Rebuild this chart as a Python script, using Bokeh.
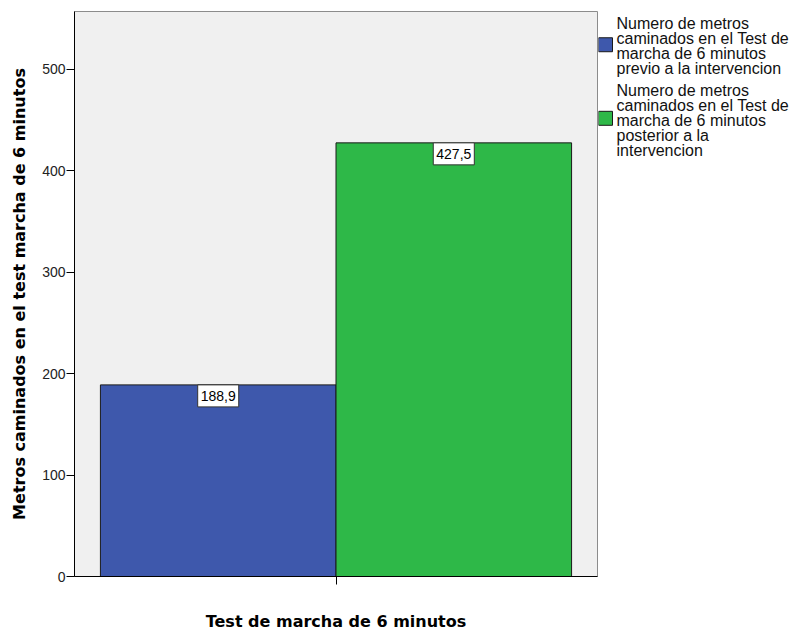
from bokeh.plotting import figure
from bokeh.layouts import row
from bokeh.models import ColumnDataSource, Range1d, FixedTicker
from bokeh.core.properties import value
from bokeh.embed import file_html
from bokeh.resources import INLINE

# Data
series_lines = [
    ["Numero de metros", "caminados en el Test de", "marcha de 6 minutos",
     "previo a la intervencion"],
    ["Numero de metros", "caminados en el Test de", "marcha de 6 minutos",
     "posterior a la", "intervencion"],
]
metros = [188.9, 427.5]
bar_colors = ["#3E58AC", "#2EB848"]
bar_pos = [-0.5, 0.5]
y_ticks = [0, 100, 200, 300, 400, 500]
x_title = "Test de marcha de 6 minutos"
y_title = "Metros caminados en el test marcha de 6 minutos"

value_labels = [f"{v:.1f}".replace(".", ",") for v in metros]

H = 633
MAIN_W = 598
LEG_W = 794 - MAIN_W
TOP, BOTTOM = 11, 56          # borders above and below the plot frame

src = ColumnDataSource(dict(x=bar_pos, top=metros, color=bar_colors,
                            label=value_labels))

p = figure(width=MAIN_W, height=H, output_backend="svg", toolbar_location=None,
           title=None,
           x_range=Range1d(-1.11, 1.11), y_range=Range1d(0, 557),
           min_border_left=74, min_border_right=1,
           min_border_top=TOP, min_border_bottom=BOTTOM)

p.background_fill_color = "#F0F0F0"
p.border_fill_color = "white"
p.outline_line_color = "#8C8C8C"
p.outline_line_width = 1
p.xgrid.visible = False
p.ygrid.visible = False

bars = p.vbar(x="x", top="top", bottom=0, width=1.0, source=src,
              fill_color="color", line_color="#1A1A1A", line_width=1)

# value boxes hanging from the top of each bar
p.text(x="x", y="top", text="label", source=src, anchor="top_center",
       text_align="center", text_baseline="middle",
       text_font=value("Liberation Sans"), text_font_size="14px",
       text_color="black", background_fill_color="white",
       border_line_color="#333333", border_line_width=1,
       padding=dict(left=3, right=3, top=6, bottom=6))

# Axes
p.yaxis.ticker = FixedTicker(ticks=y_ticks)
p.yaxis.minor_tick_line_color = None
p.yaxis.major_tick_in = 0
p.yaxis.major_tick_out = 8
p.yaxis.major_tick_line_color = "black"
p.yaxis.axis_line_color = "black"
p.yaxis.major_label_standoff = 1
p.yaxis.major_label_text_font = "Liberation Sans"
p.yaxis.major_label_text_font_size = "14px"
p.yaxis.major_label_text_color = "#222222"
p.yaxis.axis_label = y_title
p.yaxis.axis_label_text_font = "DejaVu Sans"
p.yaxis.axis_label_text_font_style = "bold"
p.yaxis.axis_label_text_font_size = "16px"
p.yaxis.axis_label_text_color = "black"
p.yaxis.axis_label_standoff = 10

p.xaxis.ticker = FixedTicker(ticks=[0])
p.xaxis.minor_tick_line_color = None
p.xaxis.major_tick_in = 0
p.xaxis.major_tick_out = 8
p.xaxis.major_tick_line_color = "black"
p.xaxis.axis_line_color = "black"
p.xaxis.major_label_overrides = {0: ""}
p.xaxis.major_label_text_font_size = "0px"
p.xaxis.major_label_standoff = 0
p.xaxis.axis_label = x_title
p.xaxis.axis_label_text_font = "DejaVu Sans"
p.xaxis.axis_label_text_font_style = "bold"
p.xaxis.axis_label_text_font_size = "16px"
p.xaxis.axis_label_text_color = "black"
p.xaxis.axis_label_standoff = 27

# Legend panel: its frame lines up with the main frame and its data space
# is measured in page pixels, y growing downwards
leg = figure(width=LEG_W, height=H, output_backend="svg", toolbar_location=None,
             title=None,
             x_range=Range1d(0, LEG_W), y_range=Range1d(H - BOTTOM, TOP),
             x_axis_location=None, y_axis_location=None,
             min_border_left=0, min_border_right=0,
             min_border_top=TOP, min_border_bottom=BOTTOM)
leg.outline_line_color = None
leg.xgrid.visible = False
leg.ygrid.visible = False
leg.background_fill_color = "white"
leg.border_fill_color = "white"

swatch_tops = [37.3, 111.0]
leg.quad(left=0, right=14, top=swatch_tops,
         bottom=[t + 14 for t in swatch_tops], fill_color=bar_colors,
         line_color="#1A1A1A", line_width=1)

line_step = 15.0
first_lines = [22.8, 90.0]
txt_x, txt_y, txt = [], [], []
for lines, y0 in zip(series_lines, first_lines):
    for k, line in enumerate(lines):
        txt_x.append(18)
        txt_y.append(y0 + k * line_step)
        txt.append(line)
leg.text(x=txt_x, y=txt_y, text=txt, text_font=value("Liberation Sans"),
         text_font_size="16px", text_color="#111111",
         text_baseline="alphabetic", text_align="left")

layout = row(p, leg, spacing=0)
open("out.html", "w").write(file_html(layout, INLINE))
